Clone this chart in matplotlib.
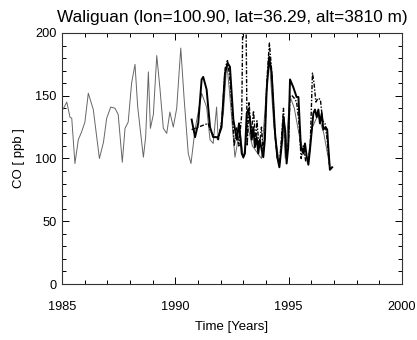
import matplotlib
matplotlib.use("Agg")
import matplotlib.pyplot as plt
from matplotlib.ticker import MultipleLocator

plt.rcParams['font.family'] = ['Liberation Sans', 'DejaVu Sans']

# thin line (model), time in years / CO in ppb
model_t = [1985.00, 1985.10, 1985.21, 1985.35, 1985.43, 1985.57, 1985.72, 1985.86,
           1986.01, 1986.16, 1986.38, 1986.65, 1986.83, 1986.97, 1987.15, 1987.34,
           1987.48, 1987.66, 1987.78, 1987.92, 1988.07, 1988.22, 1988.34, 1988.44,
           1988.59, 1988.69, 1988.81, 1988.90, 1989.03, 1989.18, 1989.32, 1989.47,
           1989.62, 1989.76, 1989.91, 1990.06, 1990.24, 1990.39, 1990.57, 1990.69,
           1990.87, 1991.16, 1991.38, 1991.53, 1991.67, 1991.82, 1991.89, 1992.12,
           1992.27, 1992.41, 1992.63, 1992.85, 1993.00, 1993.20, 1993.40, 1993.60,
           1993.80, 1994.00, 1994.15, 1994.35, 1994.60, 1994.75, 1994.85, 1995.05,
           1995.25, 1995.45, 1995.65, 1995.85, 1996.05, 1996.30, 1996.55, 1996.80]
model_co = [138, 141, 145, 133, 132, 96, 115, 121,
            129, 152, 139, 100, 113, 132, 141, 140,
            135, 97, 124, 129, 160, 175, 141, 125,
            101, 117, 169, 124, 135, 182, 156, 124,
            120, 137, 125, 140, 188, 147, 104, 96,
            123, 152, 141, 115, 112, 141, 115, 136,
            176, 149, 101, 123, 100, 125, 110, 105,
            100, 150, 178, 125, 95, 130, 100, 150,
            140, 120, 105, 100, 125, 135, 120, 95]

# thick line (observations)
obs_t = [1990.72, 1990.87, 1991.01, 1991.16, 1991.23, 1991.38, 1991.53, 1991.67,
         1991.89, 1992.04, 1992.19, 1992.31, 1992.41, 1992.56, 1992.71, 1992.81,
         1992.93, 1993.00, 1993.07, 1993.15, 1993.22, 1993.29, 1993.37, 1993.44,
         1993.51, 1993.59, 1993.66, 1993.73, 1993.81, 1993.88, 1993.95, 1994.03,
         1994.14, 1994.25, 1994.40, 1994.50, 1994.59, 1994.70, 1994.77, 1994.84,
         1994.91, 1994.98, 1995.06, 1995.20, 1995.35, 1995.43, 1995.54, 1995.65,
         1995.72, 1995.80, 1995.87, 1995.94, 1996.09, 1996.16, 1996.24, 1996.31,
         1996.38, 1996.46, 1996.53, 1996.63, 1996.70, 1996.75, 1996.82, 1996.92]
obs_co = [131, 117, 128, 163, 165, 155, 125, 117,
          117, 125, 168, 176, 173, 131, 115, 128,
          104, 101, 104, 136, 139, 131, 115, 125,
          109, 117, 104, 115, 107, 101, 115, 155,
          181, 168, 120, 101, 93, 112, 133, 123,
          96, 109, 163, 157, 149, 149, 109, 104,
          112, 101, 95, 107, 136, 139, 133, 139,
          128, 136, 123, 125, 123, 109, 91, 93]

# dash-dot line (second record)
alt_t = [1990.72, 1991.45, 1991.55, 1991.70, 1991.90, 1992.05, 1992.20, 1992.30,
         1992.40, 1992.50, 1992.60, 1992.70, 1992.80, 1992.93, 1993.00, 1993.10,
         1993.17, 1993.25, 1993.35, 1993.45, 1993.55, 1993.60, 1993.70, 1993.80,
         1993.88, 1993.95, 1994.05, 1994.15, 1994.25, 1994.40, 1994.50, 1994.60,
         1994.70, 1994.77, 1994.84, 1994.91, 1995.00, 1995.06, 1995.15, 1995.25,
         1995.35, 1995.45, 1995.55, 1995.65, 1995.75, 1995.87, 1995.95, 1996.05,
         1996.12, 1996.20, 1996.30, 1996.40, 1996.50, 1996.60, 1996.70, 1996.80,
         1996.90]
alt_co = [123, 128, 122, 118, 115, 130, 172, 178,
          165, 140, 110, 125, 110, 135, 250, 250,
          110, 145, 120, 138, 112, 130, 108, 125,
          105, 120, 165, 192, 170, 118, 100, 97,
          120, 140, 118, 100, 115, 150, 150, 148,
          145, 130, 100, 110, 98, 97, 110, 168,
          160, 145, 148, 147, 130, 128, 115, 95,
          92]

fig = plt.figure(figsize=(4.17, 3.40), dpi=100)
ax = fig.add_axes([0.1487, 0.1647, 0.8153, 0.7383])

ax.plot(model_t, model_co, color='#666666', lw=0.7)
ax.plot(obs_t, obs_co, color='black', lw=1.4)
ax.plot(alt_t, alt_co, color='black', lw=1.0, linestyle=(0, (3, 1.2, 1, 1.2)))

ax.set_xlim(1985, 2000)
ax.set_ylim(0, 200)
ax.xaxis.set_major_locator(MultipleLocator(5))
ax.xaxis.set_minor_locator(MultipleLocator(1))
ax.yaxis.set_major_locator(MultipleLocator(50))
ax.yaxis.set_minor_locator(MultipleLocator(10))
ax.tick_params(which='both', direction='in', top=True, right=True, labelsize=9.2, width=0.7)
ax.tick_params(which='major', length=5)
ax.tick_params(which='minor', length=3)
ax.tick_params(axis='x', which='major', pad=12)
ax.tick_params(axis='y', which='major', pad=4)
for s in ax.spines.values():
    s.set_linewidth(0.8)
    s.set_color('#333333')

ax.set_title('Waliguan (lon=100.90, lat=36.29, alt=3810 m)', fontsize=12.4, pad=8)
ax.set_xlabel('Time [Years]', fontsize=9.5, labelpad=6)
ax.set_ylabel('CO [ ppb ]', fontsize=9.5, labelpad=7)

fig.savefig('out.png', dpi=100)
